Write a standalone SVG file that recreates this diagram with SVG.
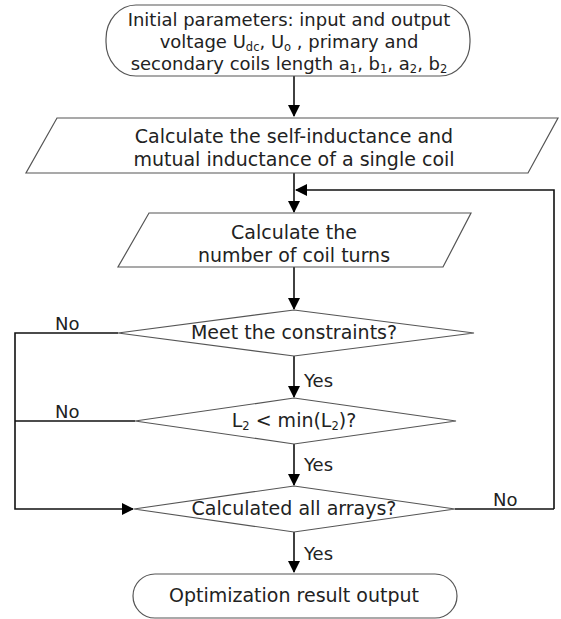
<svg xmlns="http://www.w3.org/2000/svg" width="561" height="619" viewBox="0 0 561 619">
<defs>
<marker id="arr" markerWidth="12" markerHeight="12" refX="11" refY="6" orient="auto" markerUnits="userSpaceOnUse">
<path d="M0,0 L12,6 L0,12 Z" fill="#000"/>
</marker>
<style>
.shape{fill:#fff;stroke:#555;stroke-width:1.2}
.t{font-family:"DejaVu Sans",Verdana,sans-serif;font-size:19px;fill:#222;text-anchor:middle}
.t2{font-size:18px}
.lbl{font-family:"DejaVu Sans",Verdana,sans-serif;font-size:18px;fill:#222}
.c{fill:none;stroke:#111;stroke-width:1.6}
.sub{font-size:11.5px}
</style>
</defs>
<rect width="561" height="619" fill="#fff"/>
<g id="connectors">
<path class="c" d="M294,76 V116" marker-end="url(#arr)"/>
<path class="c" d="M294,173 V212" marker-end="url(#arr)"/>
<path class="c" d="M554,509 V190 H296" marker-end="url(#arr)"/>
<path class="c" d="M294,267 V309" marker-end="url(#arr)"/>
<path class="c" d="M294,356 V397" marker-end="url(#arr)"/>
<path class="c" d="M294,444 V485" marker-end="url(#arr)"/>
<path class="c" d="M294,532 V572" marker-end="url(#arr)"/>
<path class="c" d="M118,333 H15 V509 H133" marker-end="url(#arr)"/>
<path class="c" d="M135,421 H15"/>
<path class="c" d="M455,509 H554"/>
<text class="lbl" x="55" y="330">No</text>
<text class="lbl" x="55" y="418">No</text>
<text class="lbl" x="493" y="506">No</text>
<text class="lbl" x="304" y="387">Yes</text>
<text class="lbl" x="304" y="471">Yes</text>
<text class="lbl" x="304" y="560">Yes</text>
</g>
<g id="start">
<rect class="shape" x="106" y="5" width="364" height="71" rx="30" ry="34"/>
<text class="t t2" x="289" y="26">Initial parameters: input and output</text>
<text class="t t2" x="289" y="48">voltage U<tspan class="sub" dy="3">dc</tspan><tspan dy="-3">, U</tspan><tspan class="sub" dy="3">o</tspan><tspan dy="-3"> , primary and</tspan></text>
<text class="t t2" x="289" y="70">secondary coils length a<tspan class="sub" dy="3">1</tspan><tspan dy="-3">, b</tspan><tspan class="sub" dy="3">1</tspan><tspan dy="-3">, a</tspan><tspan class="sub" dy="3">2</tspan><tspan dy="-3">, b</tspan><tspan class="sub" dy="3">2</tspan></text>
</g>
<g id="calc-inductance">
<polygon class="shape" points="57,118 558,118 528,173 26,173"/>
<text class="t" x="294" y="143">Calculate the self-inductance and</text>
<text class="t" x="294" y="166">mutual inductance of a single coil</text>
</g>
<g id="calc-turns">
<polygon class="shape" points="149,213 471,213 443,267 118,267"/>
<text class="t" x="294" y="239">Calculate the</text>
<text class="t" x="294" y="262">number of coil turns</text>
</g>
<g id="constraints">
<polygon class="shape" points="294,310 474,333 294,356 118,333"/>
<text class="t" x="294" y="339">Meet the constraints?</text>
</g>
<g id="l2min">
<polygon class="shape" points="294,398 456,421 294,444 135,421"/>
<text class="t" x="294" y="427">L<tspan class="sub" dy="3">2</tspan><tspan dy="-3"> &lt; min(L</tspan><tspan class="sub" dy="3">2</tspan><tspan dy="-3">)?</tspan></text>
</g>
<g id="all-arrays">
<polygon class="shape" points="294,486 455,509 294,532 134,509"/>
<text class="t" x="294" y="515">Calculated all arrays?</text>
</g>
<g id="end">
<rect class="shape" x="133" y="574" width="324" height="44" rx="22" ry="22"/>
<text class="t" x="294" y="602">Optimization result output</text>
</g>
</svg>
